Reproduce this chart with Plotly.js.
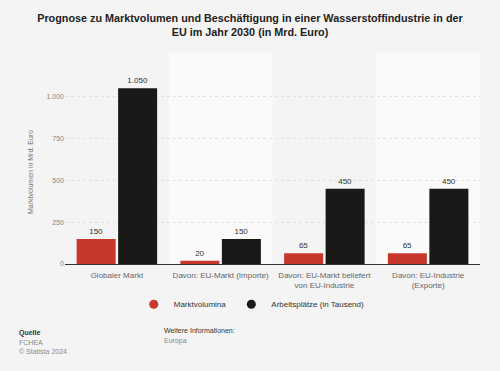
<!DOCTYPE html>
<html><head><meta charset="utf-8">
<script src="https://cdn.plot.ly/plotly-3.0.1.min.js"></script>
<style>html,body{margin:0;padding:0;background:#f4f4f4;}#chart{width:500px;height:371px;}</style>
</head><body><div id="chart"></div>
<script>
const categories = ["Globaler Markt", "Davon: EU-Markt (Importe)", "Davon: EU-Markt beliefert<br>von EU-Industrie", "Davon: EU-Industrie<br>(Exporte)"];
const marktvolumina = [150, 20, 65, 65];
const arbeitsplaetze = [1050, 150, 450, 450];
const seriesNames = ["Marktvolumina", "Arbeitsplätze (in Tausend)"];
const seriesColors = ['#c8372b', '#1b1918'];
const yTicks = [0, 250, 500, 750, 1000];

const fmt = v => v.toLocaleString('de-DE');
const font = "Liberation Sans, Arial, sans-serif";

const traces = [
  {type:'bar', name:seriesNames[0], x:categories, y:marktvolumina, marker:{color:seriesColors[0]}, showlegend:false,
   text:marktvolumina.map(fmt), textposition:'outside', textfont:{size:8, color:'#333', family:font}, cliponaxis:false},
  {type:'bar', name:seriesNames[1], x:categories, y:arbeitsplaetze, marker:{color:seriesColors[1]}, showlegend:false,
   text:arbeitsplaetze.map(fmt), textposition:'outside', textfont:{size:8, color:'#333', family:font}, cliponaxis:false},
  {type:'scatter', mode:'markers', name:seriesNames[0], x:[null], y:[null], marker:{symbol:'circle', size:9, color:seriesColors[0]}},
  {type:'scatter', mode:'markers', name:seriesNames[1], x:[null], y:[null], marker:{symbol:'circle', size:9, color:seriesColors[1]}}
];

const layout = {
  width:500, height:371,
  paper_bgcolor:'#f4f4f4', plot_bgcolor:'rgba(0,0,0,0)',
  margin:{l:65, r:20, t:80, b:107},
  font:{family:font, size:8, color:'#666'},
  separators:',.',
  title:{text:'<b>Prognose zu Marktvolumen und Beschäftigung in einer Wasserstoffindustrie in der<br>EU im Jahr 2030 (in Mrd. Euro)</b>', font:{size:10.8, color:'#222', family:font}, x:0.5, xanchor:'center', yref:'container', y:0.942, yanchor:'middle'},
  barmode:'group', bargap:0.2, bargroupgap:0.06,
  showlegend:true,
  legend:{orientation:'h', x:0.45, xanchor:'center', y:-0.14, yanchor:'top', font:{size:8, color:'#333'}, itemwidth:30, traceorder:'normal'},
  xaxis:{type:'category', showgrid:false, showline:true, linecolor:'#333', linewidth:1, ticks:'', ticklabelstandoff:3, tickfont:{size:8, color:'#666'}, fixedrange:true},
  yaxis:{range:[0,1100], tickvals:yTicks, ticktext:yTicks.map(fmt), showgrid:true, gridcolor:'#e2e2e2', gridwidth:1, griddash:'dot', zeroline:false, ticks:'', ticklen:0, tickfont:{size:7, color:'#888'},
         title:{text:'Marktvolumen in Mrd. Euro', font:{size:7, color:'#777'}, standoff:12}},
  shapes:[
    {type:'rect', xref:'x', yref:'paper', x0:0.5, x1:1.5, y0:0, y1:1.15, fillcolor:'#fafafa', line:{width:0}, layer:'below'},
    {type:'rect', xref:'x', yref:'paper', x0:2.5, x1:3.5, y0:0, y1:1.15, fillcolor:'#fafafa', line:{width:0}, layer:'below'}
  ],
  annotations:[
    {xref:'paper', yref:'paper', x:-0.115, y:-0.34, xanchor:'left', yanchor:'top', showarrow:false, align:'left',
     text:'<b>Quelle</b>', font:{size:7, color:'#333'}},
    {xref:'paper', yref:'paper', x:-0.115, y:-0.395, xanchor:'left', yanchor:'top', showarrow:false, align:'left',
     text:'FCHEA<br>© Statista 2024', font:{size:7, color:'#888'}},
    {xref:'paper', yref:'paper', x:0.234, y:-0.33, xanchor:'left', yanchor:'top', showarrow:false, align:'left',
     text:'Weitere Informationen:', font:{size:7, color:'#333'}},
    {xref:'paper', yref:'paper', x:0.234, y:-0.385, xanchor:'left', yanchor:'top', showarrow:false, align:'left',
     text:'Europa', font:{size:7, color:'#888'}}
  ]
};

Plotly.newPlot('chart', traces, layout, {displayModeBar:false, staticPlot:true});
</script></body></html>
